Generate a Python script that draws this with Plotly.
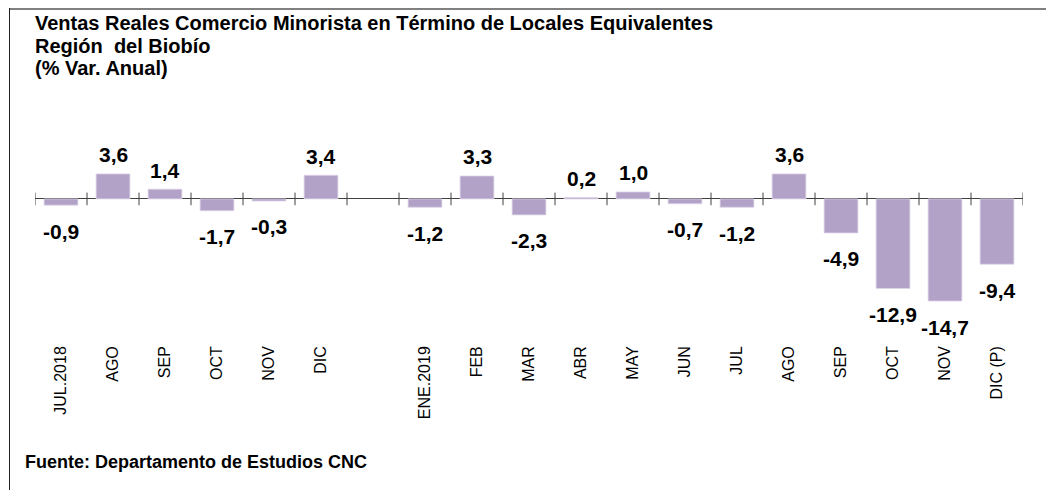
import plotly.graph_objects as go

# ---- data ----
categories = ["JUL.2018", "AGO", "SEP", "OCT", "NOV", "DIC", "",
              "ENE.2019", "FEB", "MAR", "ABR", "MAY", "JUN", "JUL",
              "AGO", "SEP", "OCT", "NOV", "DIC (P)"]
values = [-0.9, 3.6, 1.4, -1.7, -0.3, 3.4, None,
          -1.2, 3.3, -2.3, 0.2, 1.0, -0.7, -1.2,
          3.6, -4.9, -12.9, -14.7, -9.4]

title_lines = ["Ventas Reales Comercio Minorista en Término de Locales Equivalentes",
               "Región  del Biobío",
               "(% Var. Anual)"]
source_text = "Fuente: Departamento de Estudios CNC"

FONT = "Arial, Liberation Sans, Helvetica, sans-serif"
BAR_COLOR = "#B3A2C7"
W, H = 1046, 490
ML, MR, MT, MB = 35, 23, 110, 148
PW, PH = W - ML - MR, H - MT - MB
YMIN, YMAX = -20.6, 12.8


def px_x(px):
    return (px - ML) / PW


def px_y(py):
    return (H - MB - py) / PH


positions = list(range(len(categories)))
boundaries = [p - 0.5 for p in range(len(categories) + 1)]

fig = go.Figure()
fig.add_trace(go.Bar(
    x=positions, y=values, width=0.65,
    marker=dict(color=BAR_COLOR, line=dict(color="#DDD4E8", width=0.8)),
    hoverinfo="y", showlegend=False,
))
# tick marks crossing the zero line at category boundaries
fig.add_trace(go.Scatter(
    x=boundaries, y=[0] * len(boundaries), mode="markers",
    marker=dict(symbol="line-ns", size=9, line=dict(color="#404040", width=1)),
    hoverinfo="skip", showlegend=False,
))

annotations = []
for p, v in zip(positions, values):
    if v is None:
        continue
    annotations.append(dict(
        x=p, y=v, xref="x", yref="y",
        text="<b>" + f"{v:.1f}".replace(".", ",") + "</b>",
        showarrow=False, yanchor="middle",
        yshift=19 if v >= 0 else -26,
        font=dict(family=FONT, size=21, color="black"),
    ))

for i, line in enumerate(title_lines):
    annotations.append(dict(
        x=px_x(33), y=px_y(23 + 22.5 * i), xref="paper", yref="paper",
        xanchor="left", yanchor="middle", showarrow=False,
        text=f"<b>{line}</b>",
        font=dict(family=FONT, size=20, color="black"),
    ))

annotations.append(dict(
    x=px_x(23), y=px_y(462), xref="paper", yref="paper",
    xanchor="left", yanchor="middle", showarrow=False,
    text=f"<b>{source_text}</b>",
    font=dict(family=FONT, size=18, color="black"),
))

frame_shapes = [
    dict(type="line", xref="paper", yref="paper",
         x0=px_x(9), x1=px_x(W + 2), y0=px_y(9), y1=px_y(9),
         line=dict(color="#808080", width=2)),
    dict(type="line", xref="paper", yref="paper",
         x0=px_x(9.5), x1=px_x(9.5), y0=px_y(8), y1=px_y(H + 2),
         line=dict(color="#202020", width=1)),
]

fig.update_layout(
    width=W, height=H,
    margin=dict(l=ML, r=MR, t=MT, b=MB),
    paper_bgcolor="white", plot_bgcolor="white",
    xaxis=dict(
        range=[-0.5, len(categories) - 0.5],
        tickmode="array", tickvals=positions, ticktext=categories,
        tickangle=-90, ticks="", showline=False, showgrid=False,
        zeroline=False, tickfont=dict(family=FONT, size=16, color="black"),
    ),
    yaxis=dict(
        range=[YMIN, YMAX], showticklabels=False,
        showgrid=False, ticks="", showline=False,
        zeroline=True, zerolinecolor="#404040", zerolinewidth=1,
    ),
    annotations=annotations,
    shapes=frame_shapes,
    showlegend=False,
)

fig.write_html("out.html", config={"displayModeBar": False},
               post_script="document.body.style.margin='0';")
